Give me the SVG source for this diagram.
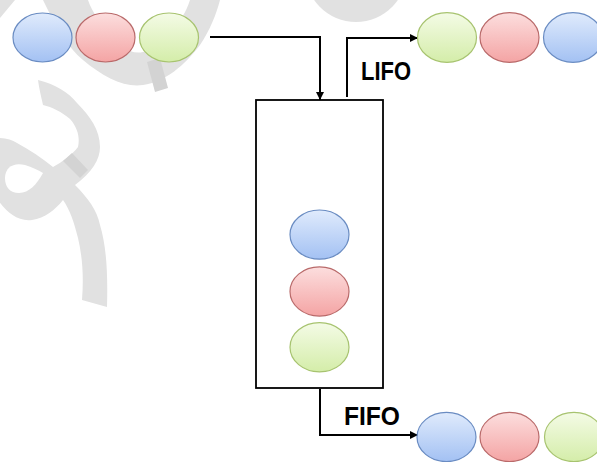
<svg xmlns="http://www.w3.org/2000/svg" width="597" height="462" viewBox="0 0 597 462">
  <style>
    .wm { fill: #e1e1e1; }
    .wm-seam { fill: #d3d3d3; }
    .ball { stroke-width: 1.2; }
    .blue { fill: url(#gBlue); stroke: #6a8cc2; }
    .red { fill: url(#gRed); stroke: #b96a6a; }
    .green { fill: url(#gGreen); stroke: #a7c36f; }
    .wire { fill: none; stroke: #000; stroke-width: 2; marker-end: url(#arrow); }
    .box { fill: #fff; stroke: #000; stroke-width: 1.8; }
    .label { font-family: "Liberation Sans", Arial, sans-serif; font-weight: bold; font-size: 26px; fill: #000; }
  </style>
  <defs>
    <linearGradient id="gBlue" x1="0" y1="0" x2="0" y2="1">
      <stop offset="0" stop-color="#e0ebfc"/>
      <stop offset="1" stop-color="#a3c1f3"/>
    </linearGradient>
    <linearGradient id="gRed" x1="0" y1="0" x2="0" y2="1">
      <stop offset="0" stop-color="#fcdede"/>
      <stop offset="1" stop-color="#f4a4a4"/>
    </linearGradient>
    <linearGradient id="gGreen" x1="0" y1="0" x2="0" y2="1">
      <stop offset="0" stop-color="#f4fbe6"/>
      <stop offset="1" stop-color="#d4eda9"/>
    </linearGradient>
    <marker id="arrow" viewBox="0 0 10 10" refX="10" refY="5" markerWidth="4" markerHeight="4" orient="auto" markerUnits="strokeWidth">
      <path d="M0,0 L10,5 L0,10 Z" fill="#000"/>
    </marker>
  </defs>

  <!-- background -->
  <rect width="597" height="462" fill="#fff"/>

  <!-- faint watermark strokes -->
  <g id="watermark">
    <path class="wm" d="M0,0 L15,0 L0,18 Z"/>
    <path class="wm" d="M43,0 C55,25 68,48 83,60 C103,77 125,88 143,85 C165,82 185,65 200,45 C210,30 216,15 220,0 L190,0 C186,12 180,22 172,30 C162,42 152,50 143,52 C130,55 118,45 110,35 C100,22 92,12 88,0 Z"/>
    <path class="wm-seam" d="M147,62 L160,58 L168,88 L155,92 Z"/>
    <ellipse class="wm" cx="356" cy="-32" rx="52" ry="54"/>
    <path class="wm" d="M38,80 C55,84 68,92 77,103 C90,116 100,130 100,147 C100,160 92,172 75,185 C88,198 97,210 100,225 C106,245 108,270 107,307 L82,300 C84,275 82,255 78,238 C74,222 70,210 63,200 C55,210 45,218 32,220 C18,222 6,212 -2,200 L-2,138 C6,138 12,140 17,143 C30,150 42,158 53,167 C62,162 72,155 78,147 C80,138 78,128 70,119 C62,112 52,107 43,105 C41,96 39,88 38,80 Z"/>
    <path fill="#fff" d="M5,178 C5,167 14,162 25,165 C32,167 38,170 43,173 C37,184 29,193 19,193 C10,193 5,187 5,178 Z"/>
    <path class="wm-seam" d="M63,161 L72,153 L88,170 L80,178 Z"/>
  </g>

  <!-- connectors -->
  <g id="connectors">
    <path class="wire" d="M210,37 H320 V100"/>
    <path class="wire" d="M347,97 V38 H418"/>
    <path class="wire" d="M320,389 V435 H418"/>
  </g>

  <!-- incoming sequence -->
  <g id="input-queue">
    <ellipse class="ball blue" cx="42.5" cy="37.5" rx="29.5" ry="24.5"/>
    <ellipse class="ball red" cx="105.5" cy="37.5" rx="29.5" ry="24.5"/>
    <ellipse class="ball green" cx="169" cy="37.5" rx="29.5" ry="24.5"/>
  </g>

  <!-- container holding the items -->
  <g id="container">
    <rect class="box" x="256" y="100" width="127" height="288"/>
    <ellipse class="ball blue" cx="319.5" cy="234.6" rx="29.5" ry="24.6"/>
    <ellipse class="ball red" cx="319.5" cy="291.5" rx="29.5" ry="24.6"/>
    <ellipse class="ball green" cx="319.5" cy="347.2" rx="29.5" ry="24.6"/>
  </g>

  <!-- last in, first out result -->
  <g id="lifo-output">
    <text class="label" x="361" y="80" textLength="50" lengthAdjust="spacingAndGlyphs">LIFO</text>
    <ellipse class="ball green" cx="447" cy="37.5" rx="29.5" ry="24.8"/>
    <ellipse class="ball red" cx="509.5" cy="37.5" rx="29.5" ry="24.8"/>
    <ellipse class="ball blue" cx="573" cy="37.5" rx="29.5" ry="24.8"/>
  </g>

  <!-- first in, first out result -->
  <g id="fifo-output">
    <text class="label" x="344" y="425" textLength="56" lengthAdjust="spacingAndGlyphs">FIFO</text>
    <ellipse class="ball blue" cx="446.5" cy="437" rx="29.5" ry="24.6"/>
    <ellipse class="ball red" cx="509.5" cy="437" rx="29.5" ry="24.6"/>
    <ellipse class="ball green" cx="574" cy="437" rx="29.5" ry="24.6"/>
  </g>
</svg>
